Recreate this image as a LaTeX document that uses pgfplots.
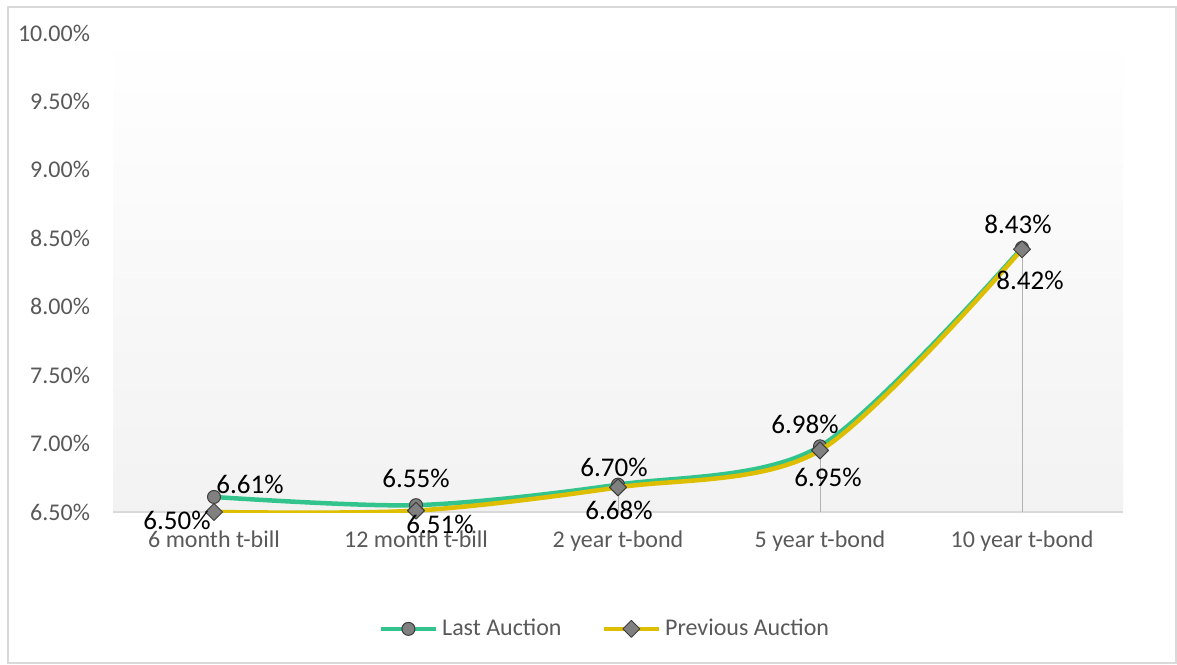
\documentclass[border=0pt]{standalone}
\usepackage{fontspec}
\setmainfont{Carlito}
\usepackage{pgfplots}
\pgfplotsset{compat=1.18}
\usepackage{pgfplotstable}

\definecolor{lastc}{RGB}{51,196,141}
\definecolor{prevc}{RGB}{221,190,0}
\definecolor{lbl}{RGB}{89,89,89}
\definecolor{frm}{RGB}{217,217,217}
\definecolor{mk}{RGB}{128,128,128}
\definecolor{mkd}{RGB}{60,60,60}

% x = category index, y = yield (%), dx/dy = label offset in pt
\pgfplotstableread{
x y dx dy
0 6.61 18 6.5
1 6.55 0 13.5
2 6.70 -2 8.5
3 6.98 -7.5 11
4 8.43 -2 11.5
}\lastauction

\pgfplotstableread{
x y dx dy
0 6.50 -18.5 -4
1 6.51 12 -7
2 6.68 0.5 -11.5
3 6.95 4 -13.5
4 8.42 4 -15.5
}\prevauction

\begin{document}
\begin{tikzpicture}
\begin{axis}[
  name=yc,
  scale only axis,
  width=505pt, height=239.5pt,
  xmin=-0.5, xmax=4.5,
  ymin=6.5, ymax=10,
  xtick={0,...,4},
  xticklabels={6 month t-bill, 12 month t-bill, 2 year t-bond, 5 year t-bond, 10 year t-bond},
  ytick={6.5,7,...,10},
  yticklabel={\pgfmathprintnumber[fixed,fixed zerofill,precision=2]{\tick}\%},
  /pgf/number format/assume math mode=true,
  tick style={draw=none},
  axis lines*=left,
  x axis line style={draw=frm, line width=0.75pt, -},
  y axis line style={draw=none},
  axis background/.style={top color=white, bottom color=black!5},
  ticklabel style={font=\fontsize{12}{14}\selectfont, text=lbl},
  yticklabel style={xshift=-8pt},
  xticklabel style={yshift=-6pt},
  clip mode=individual,
  legend style={at={(0.488,-0.244)}, anchor=center, draw=none, fill=none,
    legend columns=2, font=\fontsize{12}{14}\selectfont, text=lbl,
    /tikz/every even column/.append style={column sep=18pt}},
  legend image code/.code={%
    \draw[mark repeat=2,mark phase=2,#1] plot coordinates {(0pt,0pt) (13.75pt,0pt) (27.5pt,0pt)};},
  every node near coord/.append style={font=\fontsize{13.5}{16}\selectfont, text=black,
    anchor=center, xshift=\dx pt, yshift=\dy pt},
  visualization depends on={\thisrow{dx} \as \dx},
  visualization depends on={\thisrow{dy} \as \dy},
]
% drop lines
\addplot[ycomb, draw=black!30, line width=0.5pt, mark=none, forget plot] table[x=x, y=y] {\lastauction};

\addplot[lastc, line width=2.25pt, smooth, line join=round,
  mark=*, mark size=3.25pt, mark options={fill=mk, draw=mkd, line width=0.5pt},
  nodes near coords={\pgfmathprintnumber[fixed,fixed zerofill,precision=2]{\pgfplotspointmeta}\%},
  point meta=y] table[x=x, y=y] {\lastauction};
\addlegendentry{Last Auction}

\addplot[prevc, line width=2.25pt, smooth, line join=round,
  mark=square*, mark size=3pt, mark options={fill=mk, draw=mkd, line width=0.5pt, rotate=45},
  nodes near coords={\pgfmathprintnumber[fixed,fixed zerofill,precision=2]{\pgfplotspointmeta}\%},
  point meta=y] table[x=x, y=y] {\prevauction};
\addlegendentry{Previous Auction}
\end{axis}
\draw[frm, line width=0.75pt] ([xshift=-52.5pt, yshift=-75.6pt]yc.south west) rectangle ([xshift=26.5pt, yshift=13pt]yc.north east);
\path ([xshift=-56.5pt, yshift=-76pt]yc.south west) ([xshift=27pt, yshift=16.5pt]yc.north east);
\end{tikzpicture}
\end{document}
